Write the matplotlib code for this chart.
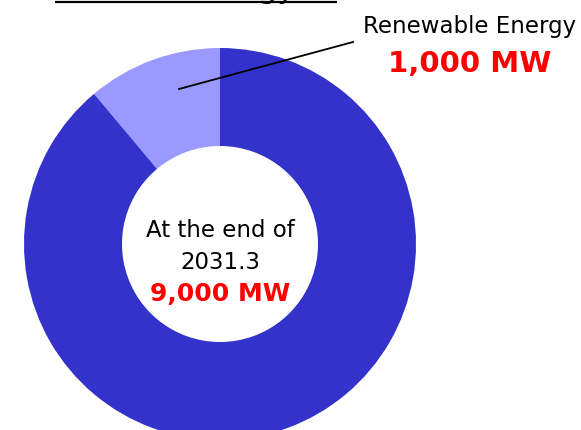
import matplotlib
matplotlib.use("Agg")
import matplotlib.pyplot as plt

# ── Data ──────────────────────────────────────────
labels = ["Renewable Energy", "Other"]
values = [1000, 8000]
colors = ["#9999FF", "#3333CC"]
total_label = "9,000 MW"
renew_label = "1,000 MW"
center_lines = ["At the end of", "2031.3"]
title = "Target for Renewable Energy"

W, H = 581, 431
fig = plt.figure(figsize=(W / 100, H / 100), dpi=100)
ax = fig.add_axes([0, 0, 1, 1])

cx, cy = 220, H - 245
ax.pie(values, colors=colors, startangle=90, counterclock=True,
       radius=196, center=(cx, cy), frame=True,
       wedgeprops=dict(width=98, linewidth=0))
ax.set_xlim(0, W)
ax.set_ylim(0, H)
ax.set_aspect("equal")
ax.axis("off")

# title (cropped at the top of the picture) + underline
ax.text(295, H + 2.5, title, ha="right", va="baseline",
        fontsize=22, color="black", clip_on=True)
ax.plot([55, 337], [H - 3, H - 3], color="black", lw=1.6, solid_capstyle="butt")

# leader line to the renewable slice
ax.plot([179, 353], [H - 90, H - 43], color="black", lw=1.3)

fs = 16.5
ax.text(470, H - 33, labels[0], ha="center", va="baseline", fontsize=fs)
ax.text(470, H - 72, renew_label, ha="center", va="baseline",
        fontsize=21, fontweight="bold", color="#FF0000")

ax.text(cx, H - 237, center_lines[0], ha="center", va="baseline", fontsize=fs)
ax.text(cx, H - 269, center_lines[1], ha="center", va="baseline", fontsize=fs)
ax.text(cx, H - 301, total_label, ha="center", va="baseline",
        fontsize=18, fontweight="bold", color="#FF0000")

fig.savefig("out.png", dpi=100)
